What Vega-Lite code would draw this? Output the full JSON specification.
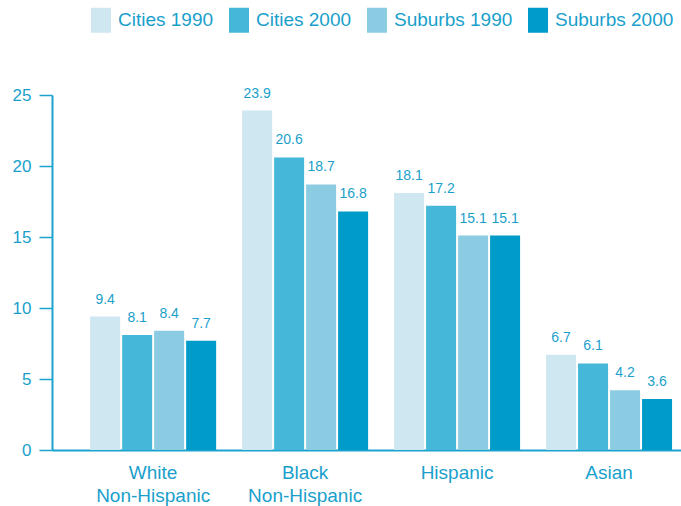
{
  "$schema": "https://vega.github.io/schema/vega-lite/v6.json",
  "width": 629,
  "height": 355,
  "autosize": {"type": "none"},
  "padding": {"left": 52, "top": 95, "right": 0, "bottom": 56},
  "background": "white",
  "config": {
    "view": {"stroke": null},
    "font": "Liberation Sans"
  },
  "data": {
    "values": [
      {"group": "White|Non-Hispanic", "series": "Cities 1990", "value": 9.4},
      {"group": "White|Non-Hispanic", "series": "Cities 2000", "value": 8.1},
      {"group": "White|Non-Hispanic", "series": "Suburbs 1990", "value": 8.4},
      {"group": "White|Non-Hispanic", "series": "Suburbs 2000", "value": 7.7},
      {"group": "Black|Non-Hispanic", "series": "Cities 1990", "value": 23.9},
      {"group": "Black|Non-Hispanic", "series": "Cities 2000", "value": 20.6},
      {"group": "Black|Non-Hispanic", "series": "Suburbs 1990", "value": 18.7},
      {"group": "Black|Non-Hispanic", "series": "Suburbs 2000", "value": 16.8},
      {"group": "Hispanic", "series": "Cities 1990", "value": 18.1},
      {"group": "Hispanic", "series": "Cities 2000", "value": 17.2},
      {"group": "Hispanic", "series": "Suburbs 1990", "value": 15.1},
      {"group": "Hispanic", "series": "Suburbs 2000", "value": 15.1},
      {"group": "Asian", "series": "Cities 1990", "value": 6.7},
      {"group": "Asian", "series": "Cities 2000", "value": 6.1},
      {"group": "Asian", "series": "Suburbs 1990", "value": 4.2},
      {"group": "Asian", "series": "Suburbs 2000", "value": 3.6}
    ]
  },
  "encoding": {
    "x": {
      "field": "group",
      "type": "nominal",
      "sort": ["White|Non-Hispanic", "Black|Non-Hispanic", "Hispanic", "Asian"],
      "scale": {"paddingInner": 0.171, "paddingOuter": 0.155, "align": 0.81},
      "axis": {
        "title": null,
        "labelAngle": 0,
        "ticks": false,
        "domainColor": "#1aa3cf",
        "domainWidth": 2,
        "labelColor": "#1a9fcc",
        "labelFontSize": 19,
        "labelPadding": 13,
        "labelLineHeight": 23,
        "labelExpr": "split(datum.label, '|')"
      }
    },
    "xOffset": {
      "field": "series",
      "type": "nominal",
      "sort": ["Cities 1990", "Cities 2000", "Suburbs 1990", "Suburbs 2000"],
      "scale": {"paddingInner": 0.0625, "paddingOuter": 0}
    },
    "y": {
      "field": "value",
      "type": "quantitative",
      "scale": {"domain": [0, 25], "nice": false},
      "axis": {
        "title": null,
        "values": [0, 5, 10, 15, 20, 25],
        "grid": false,
        "domainColor": "#1aa3cf",
        "domainWidth": 2,
        "tickColor": "#1aa3cf",
        "tickSize": 13,
        "tickWidth": 1.5,
        "labelColor": "#1a9fcc",
        "labelFontSize": 17,
        "labelPadding": 8
      }
    }
  },
  "layer": [
    {
      "mark": {"type": "bar"},
      "encoding": {
        "color": {
          "field": "series",
          "type": "nominal",
          "sort": ["Cities 1990", "Cities 2000", "Suburbs 1990", "Suburbs 2000"],
          "scale": {
            "domain": ["Cities 1990", "Cities 2000", "Suburbs 1990", "Suburbs 2000"],
            "range": ["#cfe7f1", "#45b8da", "#8bcce3", "#009bc8"]
          },
          "legend": {
            "title": null,
            "orient": "none",
            "legendX": 39,
            "legendY": -85,
            "direction": "horizontal",
            "columns": 4,
            "columnPadding": 15,
            "padding": 0,
            "symbolType": "M-1,-1.25H1V1.25H-1Z",
            "symbolSize": 400,
            "symbolStrokeWidth": 0,
            "symbolOpacity": 1,
            "labelFontSize": 19,
            "labelColor": "#1a9fcc",
            "labelOffset": 7,
            "labelLimit": 300
          }
        }
      }
    },
    {
      "mark": {"type": "text", "baseline": "bottom", "dy": -10, "fontSize": 14, "color": "#1a9fcc"},
      "encoding": {
        "text": {"field": "value", "type": "quantitative", "format": ".1f"}
      }
    }
  ]
}
